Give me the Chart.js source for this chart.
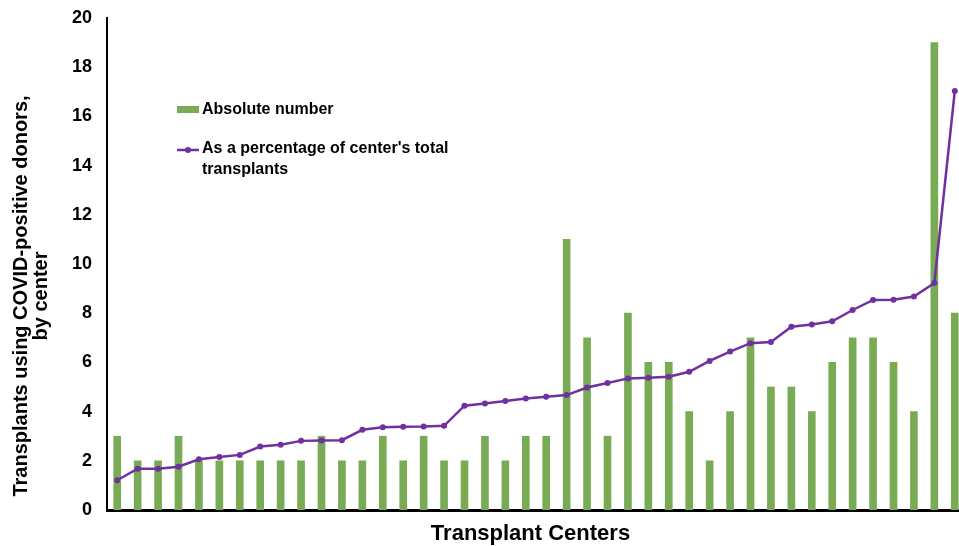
<!DOCTYPE html>
<html>
<head>
<meta charset="utf-8">
<script src="https://cdn.jsdelivr.net/npm/chart.js@4/dist/chart.umd.min.js"></script>
<style>
html,body{margin:0;padding:0;overflow:hidden;background:#fff;width:959px;height:546px}
#wrap{position:absolute;left:0;top:0;width:969px;height:546px}
</style>
</head>
<body>
<div id="wrap"><canvas id="c" width="969" height="546"></canvas></div>
<script>
// ---- data ----
const categories = ['C1','C2','C3','C4','C5','C6','C7','C8','C9','C10','C11','C12','C13','C14',
  'C15','C16','C17','C18','C19','C20','C21','C22','C23','C24','C25','C26','C27','C28',
  'C29','C30','C31','C32','C33','C34','C35','C36','C37','C38','C39','C40','C41','C42'];
const absoluteNumber = [3,2,2,3,2,2,2,2,2,2,3,2,2,3,2,3,2,2,3,2,3,3,11,7,3,8,6,6,4,2,4,7,5,5,4,6,7,7,6,4,19,8];
const percentOfTotal = [1.21,1.68,1.68,1.76,2.06,2.15,2.24,2.58,2.65,2.81,2.83,2.84,3.26,3.36,3.38,3.39,3.42,
  4.24,4.33,4.43,4.53,4.60,4.67,4.98,5.16,5.35,5.38,5.42,5.62,6.06,6.44,6.78,6.83,7.45,7.54,7.67,
  8.13,8.54,8.55,8.68,9.23,17.03];
const yTicks = [0,2,4,6,8,10,12,14,16,18,20];
const seriesNames = ['Absolute number', ["As a percentage of center's total", 'transplants']];
const xTitle = 'Transplant Centers';
const yTitle = ['Transplants using COVID-positive donors,', 'by center'];

// ---- style ----
const GREEN = '#79ab54';
const PURPLE = '#7030a0';
const FONT = '"Liberation Sans", Arial, Helvetica, sans-serif';

const overlay = {
  id: 'overlay',
  afterDraw(chart) {
    const ctx = chart.ctx;
    ctx.save();
    ctx.fillStyle = '#000';
    ctx.textBaseline = 'alphabetic';
    // y-axis title (two lines, rotated)
    ctx.font = 'bold 20px ' + FONT;
    ctx.textAlign = 'center';
    ctx.save();
    ctx.translate(27, 296);
    ctx.rotate(-Math.PI / 2);
    ctx.fillText(yTitle[0], 0, 0);
    ctx.fillText(yTitle[1], 0, 20);
    ctx.restore();
    // x-axis title
    ctx.font = 'bold 22px ' + FONT;
    ctx.fillText(xTitle, 530.5, 540);
    // legend
    ctx.textAlign = 'left';
    ctx.font = 'bold 16px ' + FONT;
    ctx.fillStyle = GREEN;
    ctx.fillRect(177, 106, 22, 7);
    ctx.fillStyle = '#000';
    ctx.fillText(seriesNames[0], 202, 114);
    ctx.strokeStyle = PURPLE;
    ctx.lineWidth = 2.5;
    ctx.beginPath(); ctx.moveTo(177, 150); ctx.lineTo(199, 150); ctx.stroke();
    ctx.fillStyle = PURPLE;
    ctx.beginPath(); ctx.arc(188, 150, 3, 0, Math.PI * 2); ctx.fill();
    ctx.fillStyle = '#000';
    ctx.fillText(seriesNames[1][0], 202, 153);
    ctx.fillText(seriesNames[1][1], 202, 174);
    ctx.restore();
  }
};

new Chart(document.getElementById('c'), {
  type: 'bar',
  data: {
    labels: categories,
    datasets: [
      {
        type: 'line',
        label: 'As a percentage of center\'s total transplants',
        data: percentOfTotal,
        borderColor: PURPLE,
        backgroundColor: PURPLE,
        borderWidth: 2.5,
        pointRadius: 3,
        pointBackgroundColor: PURPLE,
        pointBorderWidth: 0,
        tension: 0,
        order: 0
      },
      {
        type: 'bar',
        label: 'Absolute number',
        data: absoluteNumber,
        backgroundColor: GREEN,
        borderWidth: 0,
        barThickness: 7,
        order: 1
      }
    ]
  },
  options: {
    responsive: false,
    animation: false,
    devicePixelRatio: 1,
    layout: { padding: { top: 18, left: 0, right: 0, bottom: 0 } },
    plugins: { legend: { display: false }, tooltip: { enabled: false } },
    scales: {
      x: {
        offset: true,
        grid: { display: false },
        ticks: { display: false },
        border: { display: true, color: '#000', width: 3 },
        afterFit(scale) { scale.height = 36; }
      },
      y: {
        min: 0, max: 20,
        afterBuildTicks(scale) { scale.ticks = yTicks.map(v => ({ value: v })); },
        grid: { display: false, drawTicks: false },
        border: { display: true, color: '#000', width: 2 },
        ticks: {
          color: '#000',
          padding: 15,
          font: { family: FONT, size: 18, weight: 'bold' }
        },
        afterFit(scale) {
          scale.width = 107;
          scale.paddingTop = 0;
          scale.paddingBottom = 0;
        }
      }
    }
  },
  plugins: [overlay]
});
</script>
</body>
</html>
